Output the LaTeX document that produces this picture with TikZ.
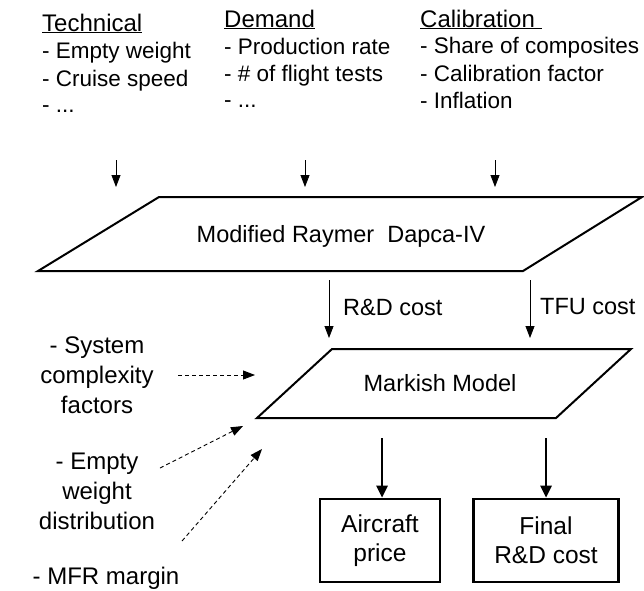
\documentclass[tikz,border=0pt]{standalone}
\usepackage{fontspec}
\setmainfont{Liberation Sans}
\usetikzlibrary{arrows.meta}
\tikzset{
  txt/.style={inner sep=0pt, font=\fontsize{23.5}{28}\selectfont},
  item/.style={inner sep=0pt, anchor=base west, font=\fontsize{22.5}{28}\selectfont},
  head/.style={inner sep=0pt, anchor=base west, font=\fontsize{24}{28}\selectfont},
  side/.style={inner sep=0pt, align=center, font=\fontsize{24}{30}\selectfont},
  thin arrow/.style={-{Triangle[width=9pt,length=12pt]}, line width=0.8pt},
  thick arrow/.style={-{Triangle[width=11pt,length=12pt]}, line width=2.6pt},
  dash arrow/.style={-{Triangle[width=9pt,length=12pt]}, line width=0.9pt, dash pattern=on 4pt off 3pt},
  para/.style={line width=2pt, line join=miter},
  outbox/.style={draw, line width=2.6pt, minimum width=120pt, minimum height=83pt,
    align=center, font=\fontsize{24.5}{29}\selectfont, inner sep=0pt}
}
\begin{document}
\begin{tikzpicture}[x=1pt,y=-1pt]
\useasboundingbox (0,0) rectangle (644,590);

% input lists
\node[head] (tech)  at (42,31)  {\underline{Technical}};
\node[item] (tech1) at (42,58)  {- Empty weight};
\node[item] (tech2) at (42,86)  {- Cruise speed};
\node[item] (tech3) at (42,112) {- ...};

\node[head] (dem)  at (224,27)  {\underline{Demand}};
\node[item] (dem1) at (224,54)  {- Production rate};
\node[item] (dem2) at (224,81)  {- \# of flight tests};
\node[item] (dem3) at (224,107) {- ...};

\node[head] (cal)  at (420,27)  {\underline{Calibration\ }};
\node[item] (cal1) at (420,53)  {- Share of composites};
\node[item] (cal2) at (420,81)  {- Calibration factor};
\node[item] (cal3) at (420,108) {- Inflation};

% Raymer DAPCA block
\draw[para] (159,197) -- (642,197) -- (523,271) -- (38,271) -- cycle;
\node[txt, anchor=base] (raymer) at (341,242) {Modified Raymer\ \ Dapca-IV};

\coordinate (in1s) at (116,160); \coordinate (in1e) at (116,187);
\coordinate (in2s) at (305,160); \coordinate (in2e) at (305,187);
\coordinate (in3s) at (495,160); \coordinate (in3e) at (495,187);
\draw[thin arrow] (in1s) -- (in1e);
\draw[thin arrow] (in2s) -- (in2e);
\draw[thin arrow] (in3s) -- (in3e);

% Markish block
\draw[para] (332,349) -- (631,349) -- (556,418) -- (257,418) -- cycle;
\node[txt] (markish) at (440,383) {Markish Model};

\coordinate (rds) at (329,280); \coordinate (rde) at (329,338);
\coordinate (tfs) at (530,280); \coordinate (tfe) at (530,338);
\draw[thin arrow] (rds) -- (rde);
\draw[thin arrow] (tfs) -- (tfe);
\node[txt, anchor=west] (rdlab) at (343,307) {R\&D cost};
\node[txt, anchor=west] (tflab) at (540,307) {TFU cost};

% side inputs
\node[side] (sys) at (97,375) {- System\\complexity\\factors};
\node[side] (ewd) at (97,491) {- Empty\\weight\\distribution};
\node[side] (mfr) at (106,578) {- MFR margin};

\coordinate (sysS) at (178,375); \coordinate (sysE) at (255,375);
\coordinate (ewdS) at (160,468); \coordinate (ewdE) at (243,426);
\coordinate (mfrS) at (182,541); \coordinate (mfrE) at (262,449);
\draw[dash arrow] (sysS) -- (sysE);
\draw[dash arrow] (ewdS) -- (ewdE);
\draw[dash arrow] (mfrS) -- (mfrE);

% outputs
\node[outbox] (price) at (380,540.5) {Aircraft\\price};
\node[outbox, minimum width=145pt] (final) at (546,540.5) {Final\\R\&D cost};
\coordinate (o1) at (382,438);
\coordinate (o2) at (546,438);
\draw[thick arrow] (o1) -- (price.north -| o1);
\draw[thick arrow] (o2) -- (final.north);
\end{tikzpicture}
\end{document}
